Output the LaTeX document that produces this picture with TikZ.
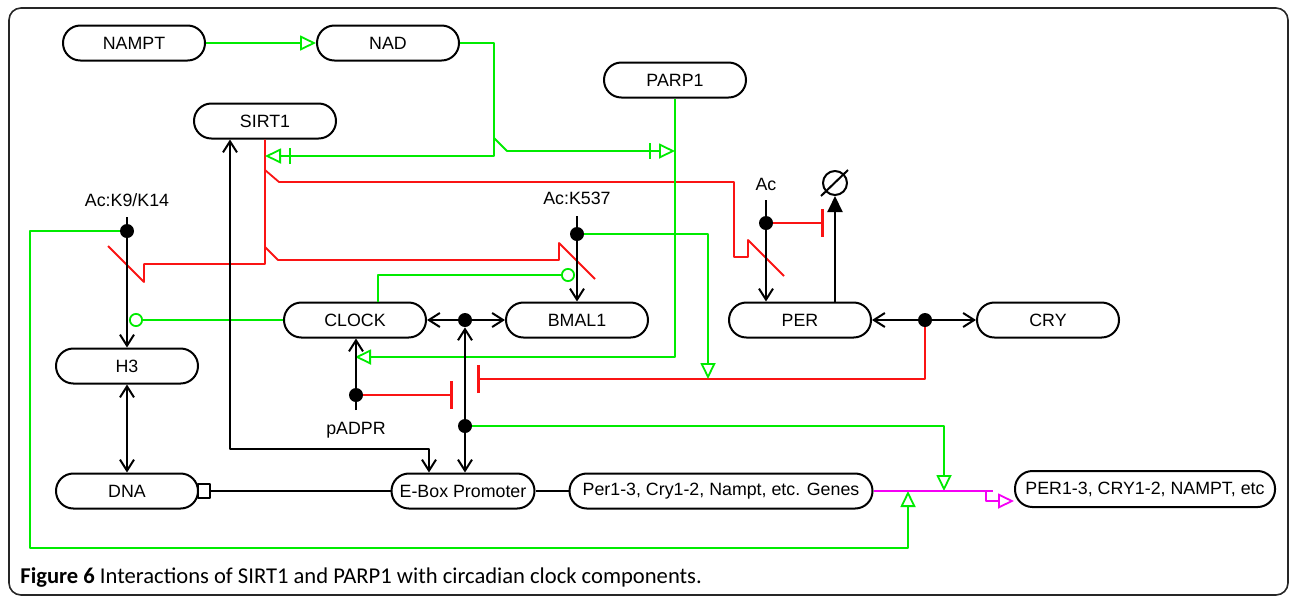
\documentclass[tikz,border=0pt]{standalone}
\usepackage{fontspec}
\setmainfont{Liberation Sans}
\newfontfamily\capfont{Carlito}
\usetikzlibrary{arrows.meta}
\definecolor{lgreen}{RGB}{0,235,0}
\definecolor{lred}{RGB}{250,20,20}
\definecolor{lmag}{RGB}{245,0,245}
\tikzset{
  barb/.tip={Straight Barb[length=5.5pt,width=7pt]},
  tri/.tip={Triangle[open,length=8pt,width=7.5pt]},
  bartri/.tip={Bar[width=8pt,sep=4pt]Triangle[open,length=8pt,width=7.5pt]},
  inh/.tip={Bar[width=14pt,line width=1.6pt]},
  circ/.tip={Circle[open,length=7pt]},
  solidtri/.tip={Triangle[length=8pt,width=7.5pt]},
}
\begin{document}
\begin{tikzpicture}[x=0.5pt,y=-0.5pt,line join=round,
  box/.style={draw,line width=1pt,rounded corners=8.7pt,minimum width=71pt,minimum height=17.5pt,inner sep=0pt,font=\fontsize{8.9}{10}\selectfont},
  lbl/.style={inner sep=0pt,font=\fontsize{8.9}{10}\selectfont},
  dot/.style={circle,fill,inner sep=0pt,minimum size=7pt},
  blk/.style={line width=1pt},
  grn/.style={draw=lgreen,line width=0.9pt},
  rd/.style={draw=lred,line width=0.9pt},
  mag/.style={draw=lmag,line width=0.9pt}]
\useasboundingbox(0,0)rectangle(1290,596);
\draw[line width=0.8pt,rounded corners=6pt,draw=black!85](9,8)rectangle(1288,595);
%
\node[box](nampt)at(134,43){NAMPT};
\node[box](nad)at(388,43){NAD};
\node[box](parp)at(675,80){PARP1};
\node[box](sirt)at(265,121){SIRT1};
\node[box](clock)at(355,320){CLOCK};
\node[box](bmal)at(577,320){BMAL1};
\node[box](per)at(800,320){PER};
\node[box](cry)at(1048,320){CRY};
\node[box](hthree)at(127,366){H3};
\node[box](dna)at(127,491){DNA};
\node[box,minimum width=71.5pt](ebox)at(463,491){E-Box Promoter};
\node[box,minimum width=151.5pt](genes)at(721,491){Per1-3, Cry1-2, Nampt, etc. Genes};
\node[box,minimum width=130pt,minimum height=18pt](prot)at(1145,489){PER1-3, CRY1-2, NAMPT, etc};
\node[draw,line width=1pt,inner sep=0pt,minimum width=6pt,minimum height=7pt](sq)at(203.5,491){};
\node[draw,circle,line width=1pt,inner sep=0pt,minimum size=12pt](esym)at(835,183){};
\draw[line width=1pt](esym.center)++(-14,13)--++(27,-26);
%
\node[dot](dk9)at(127,231){};
\node[dot](dk537)at(577,234){};
\node[dot](dac)at(766,223){};
\node[dot](dpadpr)at(356,395){};
\node[dot](dcb)at(465,320){};
\node[dot](dlow)at(465,426){};
\node[dot](dpc)at(925,320){};
\node[lbl](lk9)at(127,200){Ac:K9/K14};
\node[lbl](lk537)at(577,198){Ac:K537};
\node[lbl](lac)at(766,184){Ac};
\node[lbl](lpadpr)at(356,430){pADPR};
%
\draw[rd](sirt.south)|-(144,264)--(144,282)--(108,246);
\draw[rd](265,247)--(278,260)-|(559,243)--(595,279);
\draw[rd](265,170)--(279,182)-|(734,257)-|(748,240)--(784,276);
\draw[rd,-{inh}](dac)--(824,223);
\draw[rd,-{inh}](dpadpr)--(453,395);
\draw[rd,-{inh}](dpc)|-(477,379);
%
\draw[grn,-{tri}](nampt.east)--(nad.west);
\draw[grn,-{bartri}](nad.east)-|(494,156)--(265,156);
\draw[grn,-{bartri}](494,138)--(507,151)--(parp.south|-507,151);
\draw[grn,-{tri}](parp.south)|-(clock|-0,357);
\draw[grn,-{tri}](dk537)-|(708,379);
\draw[grn,-{circ}]([xshift=11.5pt]clock.north)|-(575,275);
\draw[grn,-{circ}](clock.west)--(129,320);
\draw[grn,-{tri}](dk9)-|(30,548)-|(908,491);
\draw[grn,-{tri}](dlow)-|(944,491);
%
\draw[mag](genes.east)--(993,491);
\draw[mag,-{tri}](986,491)|-([yshift=-6pt]prot.west);
%
\draw[blk,-{barb}]([yshift=7pt]dk9.center)--(hthree.north);
\draw[blk,{barb}-{barb}](hthree.south)--(dna.north);
\draw[blk,-{barb}]([yshift=9pt]dk537.center)--(bmal.north-|dk537);
\draw[blk,-{barb}]([yshift=11.5pt]dac.center)--(per.north-|dac);
\draw[blk,-{solidtri}]([xshift=17.5pt]per.north)--(esym.south);
\draw[blk,-{barb}](dpc)--(per);
\draw[blk,-{barb}](dpc)--(cry);
\draw[blk,-{barb}](dcb)--(clock);
\draw[blk,-{barb}](dcb)--(bmal);
\draw[blk,-{barb}](dlow)--(dcb);
\draw[blk,-{barb}](dlow)--(ebox.north-|dlow);
\draw[blk,-{barb}]([yshift=-7.5pt]dpadpr.center)--(clock.south-|dpadpr);
\draw[blk,{barb}-{barb}]([xshift=-17.5pt]sirt.south)|-(429,449)--([xshift=-17pt]ebox.north);
\draw[blk](sq.east)--(ebox.west);
\draw[blk](ebox.east)--(genes.west);
%
\node[anchor=west,inner sep=0pt,font=\capfont\fontsize{11.3}{13}\selectfont](cap)at(20,577){\textbf{Figure 6} Interactions of SIRT1 and PARP1 with circadian clock components.};
\end{tikzpicture}
\end{document}
